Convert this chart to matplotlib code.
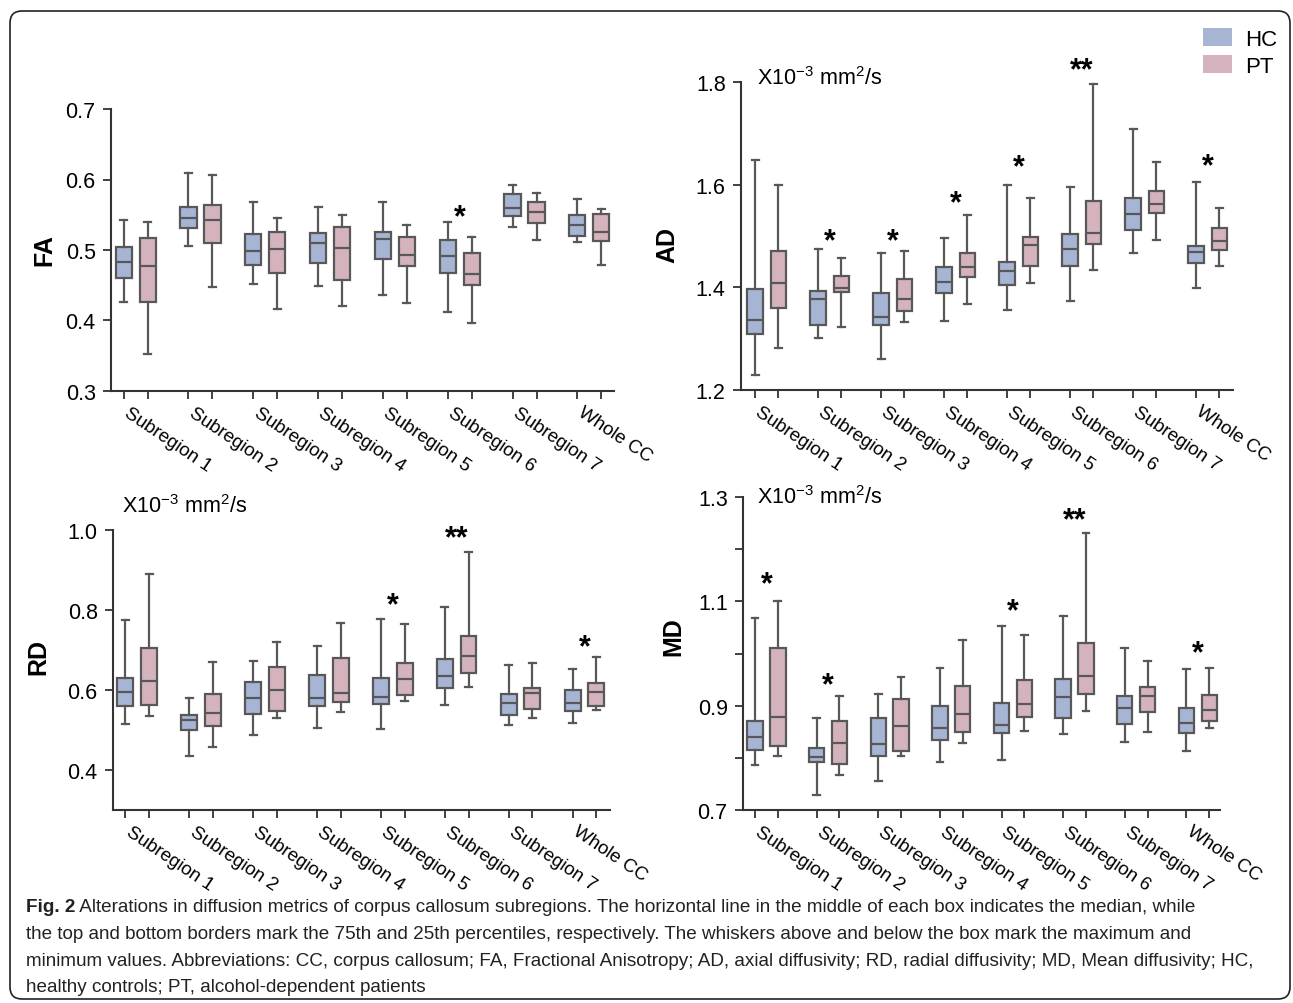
import numpy as np
import matplotlib
matplotlib.use("Agg")
import matplotlib.pyplot as plt
from matplotlib.patches import Patch, FancyBboxPatch

plt.rcParams['font.family'] = ['Liberation Sans', 'DejaVu Sans']
plt.rcParams['mathtext.fontset'] = 'custom'
plt.rcParams['mathtext.rm'] = 'Liberation Sans'
plt.rcParams['mathtext.it'] = 'Liberation Sans:italic'

categories = ["Subregion 1", "Subregion 2", "Subregion 3", "Subregion 4",
              "Subregion 5", "Subregion 6", "Subregion 7", "Whole CC"]
groups = ["HC", "PT"]

# (min, q1, median, q3, max) per category
FA_HC = [(0.426, 0.460, 0.4825, 0.504, 0.543), (0.505, 0.531, 0.546, 0.561, 0.609),
         (0.452, 0.479, 0.498, 0.522, 0.568), (0.449, 0.481, 0.510, 0.524, 0.561),
         (0.436, 0.487, 0.515, 0.525, 0.568), (0.412, 0.467, 0.491, 0.514, 0.540),
         (0.532, 0.548, 0.560, 0.579, 0.592), (0.512, 0.520, 0.536, 0.550, 0.573)]
FA_PT = [(0.352, 0.426, 0.477, 0.5165, 0.540), (0.447, 0.510, 0.542, 0.564, 0.606),
         (0.417, 0.467, 0.501, 0.525, 0.546), (0.421, 0.458, 0.503, 0.533, 0.550),
         (0.425, 0.477, 0.493, 0.518, 0.536), (0.396, 0.450, 0.466, 0.496, 0.519),
         (0.514, 0.539, 0.554, 0.568, 0.581), (0.479, 0.513, 0.525, 0.551, 0.558)]

AD_HC = [(1.229, 1.309, 1.336, 1.397, 1.648), (1.301, 1.326, 1.377, 1.393, 1.474),
         (1.261, 1.326, 1.342, 1.388, 1.466), (1.335, 1.388, 1.410, 1.439, 1.497),
         (1.356, 1.405, 1.431, 1.449, 1.600), (1.373, 1.442, 1.474, 1.503, 1.595),
         (1.466, 1.512, 1.542, 1.575, 1.709), (1.398, 1.448, 1.469, 1.481, 1.605)]
AD_PT = [(1.281, 1.360, 1.408, 1.470, 1.599), (1.323, 1.390, 1.399, 1.423, 1.457),
         (1.332, 1.353, 1.377, 1.417, 1.471), (1.368, 1.421, 1.439, 1.466, 1.540),
         (1.408, 1.442, 1.482, 1.499, 1.575), (1.434, 1.484, 1.506, 1.568, 1.797),
         (1.492, 1.545, 1.563, 1.588, 1.645), (1.442, 1.472, 1.490, 1.516, 1.555)]

RD_HC = [(0.515, 0.560, 0.594, 0.629, 0.775), (0.434, 0.499, 0.524, 0.537, 0.579),
         (0.488, 0.539, 0.579, 0.619, 0.672), (0.504, 0.559, 0.581, 0.6375, 0.709),
         (0.502, 0.564, 0.5825, 0.631, 0.7775), (0.5625, 0.606, 0.636, 0.678, 0.808),
         (0.512, 0.5375, 0.567, 0.589, 0.662), (0.517, 0.547, 0.5675, 0.600, 0.652)]
RD_PT = [(0.534, 0.562, 0.6225, 0.706, 0.889), (0.457, 0.511, 0.543, 0.591, 0.671),
         (0.529, 0.5475, 0.600, 0.657, 0.720), (0.544, 0.571, 0.593, 0.681, 0.7675),
         (0.572, 0.588, 0.6275, 0.6675, 0.765), (0.6075, 0.643, 0.686, 0.736, 0.944),
         (0.529, 0.552, 0.593, 0.605, 0.668), (0.551, 0.559, 0.596, 0.6175, 0.682)]

MD_HC = [(0.7865, 0.815, 0.840, 0.870, 1.0676), (0.729, 0.792, 0.802, 0.819, 0.877),
         (0.756, 0.803, 0.827, 0.876, 0.922), (0.792, 0.834, 0.857, 0.900, 0.972),
         (0.795, 0.847, 0.863, 0.9056, 1.053), (0.846, 0.877, 0.916, 0.951, 1.072),
         (0.831, 0.865, 0.896, 0.918, 1.011), (0.814, 0.848, 0.867, 0.896, 0.970)]
MD_PT = [(0.804, 0.823, 0.878, 1.011, 1.101), (0.768, 0.789, 0.828, 0.870, 0.918),
         (0.803, 0.813, 0.861, 0.913, 0.954), (0.829, 0.850, 0.884, 0.938, 1.025),
         (0.851, 0.878, 0.904, 0.950, 1.035), (0.890, 0.923, 0.957, 1.0195, 1.231),
         (0.850, 0.887, 0.919, 0.936, 0.985), (0.858, 0.870, 0.892, 0.920, 0.972)]

# significance marks: (category number, y value, mark)
FA_SIG = [(6, 0.560, "*")]
AD_SIG = [(2, 1.508, "*"), (3, 1.508, "*"), (4, 1.582, "*"), (5, 1.653, "*"),
          (6, 1.842, "**"), (8, 1.655, "*")]
RD_SIG = [(5, 0.836, "*"), (6, 1.0025, "**"), (8, 0.730, "*")]
MD_SIG = [(1, 1.151, "*"), (2, 0.957, "*"), (5, 1.100, "*"), (6, 1.274, "**"),
          (8, 1.018, "*")]

HC_COLOR = "#a7b5d5"
PT_COLOR = "#d5b3bc"
LINE = "#585858"
UNIT = r"X10$^{-3}$ mm$^{2}$/s"

W, H = 1293, 1004
fig = plt.figure(figsize=(W / 100, H / 100), dpi=100)


def px_axes(left, top, right, bottom):
    return fig.add_axes([left / W, 1 - bottom / H, (right - left) / W, (bottom - top) / H])


def stats(rows):
    out = []
    for lo, q1, med, q3, hi in rows:
        out.append(dict(whislo=lo, q1=q1, med=med, q3=q3, whishi=hi, fliers=[]))
    return out


def panel(ax, hc, pt, sig, ylim, yticks, ylabels, xlim, yminor=None):
    pos = np.arange(1, len(categories) + 1)
    for rows, off, col in ((hc, -0.185, HC_COLOR), (pt, 0.185, PT_COLOR)):
        ax.bxp(stats(rows), positions=pos + off, widths=0.25, capwidths=0.11,
               patch_artist=True, showfliers=False,
               boxprops=dict(facecolor=col, edgecolor=LINE, linewidth=1.6),
               medianprops=dict(color=LINE, linewidth=1.6),
               whiskerprops=dict(color=LINE, linewidth=1.6),
               capprops=dict(color=LINE, linewidth=1.6))
    ax.set_ylim(*ylim)
    ax.set_xlim(*xlim)
    ax.set_yticks(yticks)
    ax.set_yticklabels(ylabels)
    if yminor is not None:
        ax.set_yticks(yminor, minor=True)
    ax.set_xticks(np.concatenate([pos - 0.185, pos + 0.185]))
    ax.set_xticklabels([])
    ax.set_xticks(pos - 0.08, categories, minor=True)
    for lab in ax.get_xticklabels(minor=True):
        lab.set_rotation(-34)
        lab.set_ha("left")
        lab.set_va("top")
        lab.set_rotation_mode("anchor")
        lab.set_fontsize(13.5)
    ax.tick_params(axis="x", which="minor", length=0, pad=9)
    ax.tick_params(axis="x", which="major", length=6, width=1.3, color="#333333")
    ax.tick_params(axis="y", which="both", length=6, width=1.3, color="#333333",
                   labelsize=15.5, pad=5)
    for s in ("top", "right"):
        ax.spines[s].set_visible(False)
    for s in ("left", "bottom"):
        ax.spines[s].set_linewidth(1.5)
        ax.spines[s].set_color("#333333")
    fs = 22
    for g, y, mark in sig:
        ax.annotate(mark, xy=(g, y), xytext=(0, -0.575 * fs), textcoords="offset points",
                    ha="center", va="baseline", fontsize=fs, fontweight="bold",
                    annotation_clip=False)


ax_fa = px_axes(111, 110, 614, 392)
panel(ax_fa, FA_HC, FA_PT, FA_SIG, (0.3, 0.7), [0.3, 0.4, 0.5, 0.6, 0.7],
      ["0.3", "0.4", "0.5", "0.6", "0.7"], (0.62, 8.38))

ax_ad = px_axes(741, 83, 1233, 391)
panel(ax_ad, AD_HC, AD_PT, AD_SIG, (1.2, 1.8), [1.2, 1.4, 1.6, 1.8],
      ["1.2", "1.4", "1.6", "1.8"], (0.59, 8.40))

ax_rd = px_axes(113, 531, 610, 811)
panel(ax_rd, RD_HC, RD_PT, RD_SIG, (0.3, 1.0), [0.4, 0.6, 0.8, 1.0],
      ["0.4", "0.6", "0.8", "1.0"], (0.62, 8.40))

ax_md = px_axes(743, 498, 1220, 811)
panel(ax_md, MD_HC, MD_PT, MD_SIG, (0.7, 1.3), [0.7, 0.9, 1.1, 1.3],
      ["0.7", "0.9", "1.1", "1.3"], (0.62, 8.36),
      yminor=[0.8, 1.0, 1.2])

ax_ad.text(0.033, 1.013, UNIT, transform=ax_ad.transAxes, fontsize=15.5, va="center")
ax_rd.text(0.018, 1.089, UNIT, transform=ax_rd.transAxes, fontsize=15.5, va="center")
ax_md.text(0.029, 1.003, UNIT, transform=ax_md.transAxes, fontsize=15.5, va="center")

for name, x, y in (("FA", 44, 250), ("AD", 667, 245), ("RD", 38, 657), ("MD", 673, 637)):
    fig.text(x / W, 1 - y / H, name, rotation=90, ha="center", va="center",
             fontsize=18, fontweight="bold")

handles = [Patch(facecolor=HC_COLOR, edgecolor="none"),
           Patch(facecolor=PT_COLOR, edgecolor="none")]
fig.legend(handles, groups, loc="upper right", bbox_to_anchor=(1286 / W, 1 - 20 / H),
           frameon=False, fontsize=16, handlelength=1.3, handleheight=0.9,
           labelspacing=0.22, handletextpad=0.6, borderaxespad=0)

# caption
cap_font = "Liberation Sans"
cap_size = 13.6
cap_lines = [
    " Alterations in diffusion metrics of corpus callosum subregions. The horizontal line in the middle of each box indicates the median, while",
    "the top and bottom borders mark the 75th and 25th percentiles, respectively. The whiskers above and below the box mark the maximum and",
    "minimum values. Abbreviations: CC, corpus callosum; FA, Fractional Anisotropy; AD, axial diffusivity; RD, radial diffusivity; MD, Mean diffusivity; HC,",
    "healthy controls; PT, alcohol-dependent patients",
]
base = [912, 939, 966, 992]
fig_lab = fig.text(26 / W, 1 - base[0] / H, "Fig. 2", fontsize=cap_size, fontweight="bold",
                   family=cap_font, va="baseline", color="#222222")
fig.canvas.draw()
bb = fig_lab.get_window_extent()
fig.text(bb.x1 / W, 1 - base[0] / H, cap_lines[0], fontsize=cap_size, family=cap_font,
         va="baseline", color="#222222")
for line, y in zip(cap_lines[1:], base[1:]):
    fig.text(26 / W, 1 - y / H, line, fontsize=cap_size, family=cap_font,
             va="baseline", color="#222222")

frame = FancyBboxPatch((0.10, 0.04), 12.80, 9.88, boxstyle="round,pad=0,rounding_size=0.12",
                       transform=fig.dpi_scale_trans, facecolor="none",
                       edgecolor="#222222", linewidth=1.2)
fig.patches.append(frame)

fig.savefig("out.png", dpi=100)
